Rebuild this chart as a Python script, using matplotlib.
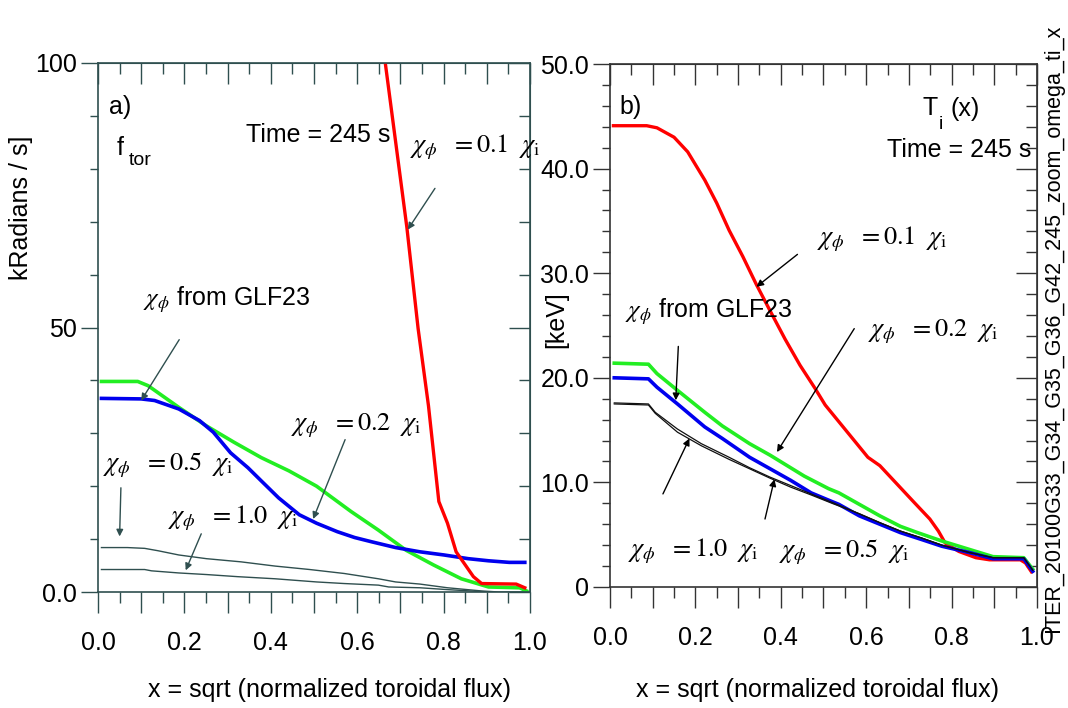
import matplotlib
matplotlib.use("Agg")
import matplotlib.pyplot as plt
from matplotlib import font_manager
from matplotlib.ticker import FixedLocator, FixedFormatter, MultipleLocator

names = {f.name for f in font_manager.fontManager.ttflist}
NARROW = 'Liberation Sans Narrow' if 'Liberation Sans Narrow' in names else 'Liberation Sans'
plt.rcParams['font.family'] = [NARROW, 'DejaVu Sans']
plt.rcParams['mathtext.fontset'] = 'stix'

# ---------------- data: panel a) f_tor [kRadians/s] ----------------
a_red_x = [0.665, 0.715, 0.741, 0.765, 0.789, 0.809, 0.829, 0.869, 0.888, 0.968, 0.988]
a_red_y = [100.0, 68.9, 49.8, 35.2, 17.1, 13.0, 7.6, 2.9, 1.6, 1.5, 0.8]

a_green_x = [0.008, 0.092, 0.116, 0.187, 0.251, 0.315, 0.378, 0.442, 0.506, 0.586,
             0.649, 0.713, 0.777, 0.841, 0.904, 0.976, 0.992]
a_green_y = [39.8, 39.8, 39.0, 34.9, 31.4, 28.3, 25.4, 22.9, 20.0, 15.2,
             11.7, 7.9, 5.1, 2.5, 0.95, 0.8, 0.2]

a_blue_x = [0.008, 0.100, 0.131, 0.187, 0.235, 0.267, 0.307, 0.347, 0.378, 0.418,
            0.466, 0.506, 0.554, 0.594, 0.633, 0.689, 0.745, 0.801, 0.857, 0.904,
            0.952, 0.988]
a_blue_y = [36.6, 36.5, 36.2, 34.6, 32.4, 30.2, 26.3, 23.5, 21.0, 17.8,
            14.6, 13.0, 11.4, 10.3, 9.5, 8.4, 7.6, 7.0, 6.3, 5.9,
            5.6, 5.6]

a_half_x = [0.008, 0.068, 0.108, 0.139, 0.187, 0.251, 0.331, 0.410, 0.490, 0.570,
            0.649, 0.689, 0.745, 0.809, 0.888, 0.928, 1.0]
a_half_y = [8.4, 8.4, 8.25, 7.8, 7.0, 6.3, 5.7, 4.9, 4.25, 3.5,
            2.5, 1.9, 1.5, 0.8, 0.2, 0.0, 0.0]

a_one_x = [0.008, 0.108, 0.124, 0.187, 0.251, 0.323, 0.410, 0.506, 0.570, 0.649,
           0.673, 0.745, 0.809, 0.904]
a_one_y = [4.25, 4.25, 4.0, 3.6, 3.3, 2.9, 2.5, 1.9, 1.6, 1.3,
           0.95, 0.8, 0.45, 0.0]

# ---------------- data: panel b) T_i [keV] ----------------
b_red_x = [0.008, 0.086, 0.110, 0.150, 0.182, 0.222, 0.250, 0.279, 0.311, 0.343,
           0.375, 0.410, 0.445, 0.480, 0.504, 0.536, 0.568, 0.604, 0.632,
           0.664, 0.712, 0.749, 0.769, 0.785, 0.817, 0.857, 0.889, 0.961, 0.973, 0.987]
b_red_y = [44.1, 44.1, 43.9, 43.0, 41.6, 38.9, 36.7, 34.1, 31.6, 28.9,
           26.4, 23.7, 21.2, 19.0, 17.4, 15.8, 14.2, 12.4, 11.6,
           10.2, 8.1, 6.5, 5.35, 4.2, 3.4, 2.8, 2.6, 2.6, 2.3, 1.45]

b_green_x = [0.010, 0.090, 0.110, 0.158, 0.222, 0.263, 0.327, 0.375, 0.423, 0.455,
             0.512, 0.536, 0.584, 0.632, 0.680, 0.720, 0.777, 0.841, 0.897, 0.969, 0.990]
b_green_y = [21.4, 21.3, 20.4, 18.8, 16.7, 15.4, 13.7, 12.6, 11.4, 10.6,
             9.4, 9.0, 7.9, 6.8, 5.8, 5.2, 4.4, 3.6, 2.9, 2.8, 1.7]

b_blue_x = [0.010, 0.090, 0.110, 0.158, 0.222, 0.263, 0.327, 0.375, 0.423, 0.471,
            0.512, 0.536, 0.584, 0.632, 0.680, 0.729, 0.777, 0.841, 0.897, 0.969, 0.990]
b_blue_y = [20.0, 19.9, 19.1, 17.5, 15.3, 14.2, 12.4, 11.3, 10.2, 9.0,
            8.3, 7.9, 6.8, 6.0, 5.2, 4.55, 3.9, 3.3, 2.7, 2.7, 1.5]

b_half_x = [0.010, 0.090, 0.106, 0.158, 0.214, 0.279, 0.327, 0.375, 0.423, 0.471,
            0.520, 0.584, 0.632, 0.680, 0.729, 0.777, 0.841, 0.897, 0.969, 0.990]
b_half_y = [17.6, 17.5, 16.7, 15.1, 13.7, 12.4, 11.4, 10.5, 9.7, 8.9,
            8.1, 7.0, 6.15, 5.35, 4.7, 4.0, 3.3, 2.8, 2.8, 1.6]
b_one_y = [17.5, 17.4, 16.6, 14.8, 13.5, 12.2, 11.3, 10.4, 9.55, 8.8,
           8.0, 7.0, 6.15, 5.35, 4.7, 4.0, 3.3, 2.8, 2.8, 1.6]

a_yticks = [0, 50, 100]
a_yticklabels = ['0.0', '50', '100']
b_yticks = [0, 10, 20, 30, 40, 50]
b_yticklabels = ['0', '10.0', '20.0', '30.0', '40.0', '50.0']
xticks = [0.0, 0.2, 0.4, 0.6, 0.8, 1.0]
xticklabels = ['0.0', '0.2', '0.4', '0.6', '0.8', '1.0']

RED, GREEN, BLUE = '#ff0000', '#22ee22', '#0000ee'

fig = plt.figure(figsize=(10.68, 7.08), dpi=100)
axA = fig.add_axes([98/1068, 1-592/708, 432/1068, 529/708])
axB = fig.add_axes([610/1068, 1-587/708, 427/1068, 523/708])


def style_axes(ax, spine_col, ymax, ymajor, yminor, yticks, yticklabels):
    ax.set_xlim(0, 1.0)
    ax.set_ylim(0, ymax)
    for s in ax.spines.values():
        s.set_color(spine_col)
        s.set_linewidth(1.2)
    labs = []
    for i in range(11):
        v = round(i * 0.1, 2)
        labs.append(xticklabels[xticks.index(v)] if v in xticks else '')
    ax.xaxis.set_major_locator(FixedLocator([i * 0.1 for i in range(11)]))
    ax.xaxis.set_major_formatter(FixedFormatter(labs))
    ax.xaxis.set_minor_locator(MultipleLocator(0.05))
    ax.tick_params(axis='x', which='major', direction='out', length=15, width=1.0,
                   color=spine_col, labelsize=18, pad=13, top=False)
    ax.tick_params(axis='x', which='minor', direction='out', length=8, width=1.0,
                   color=spine_col, top=False)
    ax.yaxis.set_major_locator(FixedLocator(yticks))
    ax.yaxis.set_major_formatter(FixedFormatter(yticklabels))
    ax.yaxis.set_minor_locator(MultipleLocator(yminor))
    ax.tick_params(axis='y', which='major', direction='out', length=12, width=1.0,
                   color=spine_col, labelsize=18, pad=3, right=False)
    ax.tick_params(axis='y', which='minor', direction='out', length=6, width=1.0,
                   color=spine_col, right=False)
    top = ax.secondary_xaxis('top')
    top.set_xticks([i * 0.1 for i in range(11)])
    top.set_xticklabels([])
    top.xaxis.set_minor_locator(MultipleLocator(0.05))
    top.tick_params(which='major', direction='in', length=15, width=1.0, color=spine_col)
    top.tick_params(which='minor', direction='in', length=8, width=1.0, color=spine_col)
    top.spines['top'].set_color(spine_col)
    rt = ax.secondary_yaxis('right')
    rt.set_yticks(list(range(0, int(ymax) + 1, ymajor)))
    rt.set_yticklabels([])
    rt.yaxis.set_minor_locator(MultipleLocator(yminor))
    rt.tick_params(which='major', direction='in', length=15, width=1.0, color=spine_col)
    rt.tick_params(which='minor', direction='in', length=8, width=1.0, color=spine_col)
    rt.spines['right'].set_color(spine_col)


SPA = '#2f4f4f'
SPB = '#333333'
style_axes(axA, SPA, 100, 50, 10, a_yticks, a_yticklabels)
style_axes(axB, SPB, 50, 10, 2, b_yticks, b_yticklabels)

# ---- panel a curves ----
axA.plot(a_half_x, a_half_y, color=SPA, lw=1.0)
axA.plot(a_one_x, a_one_y, color=SPA, lw=1.0)
axA.plot(a_green_x, a_green_y, color=GREEN, lw=2.6)
axA.plot(a_blue_x, a_blue_y, color=BLUE, lw=2.6)
axA.plot(a_red_x, a_red_y, color=RED, lw=2.4)

# ---- panel b curves ----
axB.plot(b_red_x, b_red_y, color=RED, lw=2.4)
axB.plot(b_green_x, b_green_y, color=GREEN, lw=2.6)
axB.plot(b_blue_x, b_blue_y, color=BLUE, lw=2.6)
axB.plot(b_half_x, b_half_y, color='#111111', lw=0.9)
axB.plot(b_half_x, b_one_y, color='#111111', lw=0.9)

TS = 18   # sans text size
MS = 19   # math label size


def chi(val):
    return r'$\chi_\phi\ \ = %s\ \ \chi_{\rm i}$' % val


def arrow(ax, start, tip, col):
    ax.annotate('', xy=tip, xytext=start,
                arrowprops=dict(arrowstyle='-|>', color=col, lw=1.0,
                                mutation_scale=10, shrinkA=0, shrinkB=0))


# ---- panel a texts ----
axA.text(0.025, 91.6, 'a)', fontsize=TS, va='center', ha='left')
axA.text(0.044, 84.0, 'f', fontsize=TS, va='center', ha='left')
axA.text(0.072, 81.6, 'tor', fontsize=14, va='center', ha='left')
axA.text(0.343, 86.3, 'Time = 245 s', fontsize=TS, va='center', ha='left')
axA.text(0.722, 84.0, chi('0.1'), fontsize=MS, va='center', ha='left')
arrow(axA, (0.780, 76.3), (0.717, 68.5), SPA)
axA.text(0.104, 55.3, r'$\chi_\phi$ from GLF23', fontsize=TS, va='center', ha='left')
arrow(axA, (0.188, 47.7), (0.100, 36.2), SPA)
axA.text(0.446, 31.4, chi('0.2'), fontsize=MS, va='center', ha='left')
arrow(axA, (0.572, 28.8), (0.498, 13.8), SPA)
axA.text(0.012, 24.0, chi('0.5'), fontsize=MS, va='center', ha='left')
arrow(axA, (0.053, 19.7), (0.050, 10.5), SPA)
axA.text(0.163, 14.0, chi('1.0'), fontsize=MS, va='center', ha='left')
arrow(axA, (0.239, 11.0), (0.203, 4.1), SPA)

# ---- panel b texts ----
axB.text(0.022, 45.9, 'b)', fontsize=TS, va='center', ha='left')
axB.text(0.733, 45.8, 'T', fontsize=TS, va='center', ha='left')
axB.text(0.770, 44.2, 'i', fontsize=14, va='center', ha='left')
axB.text(0.797, 45.7, '(x)', fontsize=TS, va='center', ha='left')
axB.text(0.648, 41.8, 'Time = 245 s', fontsize=TS, va='center', ha='left')
axB.text(0.484, 33.2, chi('0.1'), fontsize=MS, va='center', ha='left')
arrow(axB, (0.439, 31.8), (0.343, 28.7), 'black')
axB.text(0.034, 26.3, r'$\chi_\phi$ from GLF23', fontsize=TS, va='center', ha='left')
arrow(axB, (0.160, 23.0), (0.154, 17.85), 'black')
axB.text(0.604, 24.4, chi('0.2'), fontsize=MS, va='center', ha='left')
arrow(axB, (0.572, 24.7), (0.391, 12.9), 'black')
axB.text(0.042, 3.4, chi('1.0'), fontsize=MS, va='center', ha='left')
arrow(axB, (0.124, 8.9), (0.186, 14.2), 'black')
axB.text(0.395, 3.3, chi('0.5'), fontsize=MS, va='center', ha='left')
arrow(axB, (0.363, 6.5), (0.385, 10.3), 'black')

# ---- axis labels ----
fig.text(21/1068, 1-208/708, 'kRadians / s]', rotation=90, fontsize=TS,
         ha='center', va='center')
fig.text(556/1068, 1-320/708, '[keV]', rotation=90, fontsize=TS,
         ha='center', va='center')
fig.text(330/1068, 1-690/708, 'x = sqrt (normalized toroidal flux)', fontsize=TS,
         ha='center', va='center')
fig.text(817/1068, 1-690/708, 'x = sqrt (normalized toroidal flux)', fontsize=TS,
         ha='center', va='center')
fig.text(1053/1068, 1-632/708, 'ITER_20100G33_G34_G35_G36_G42_245_zoom_omega_ti_x',
         rotation=90, fontsize=15.5, ha='center', va='bottom',
         family=['Liberation Sans', 'DejaVu Sans'])

fig.savefig('out.png', dpi=100)
